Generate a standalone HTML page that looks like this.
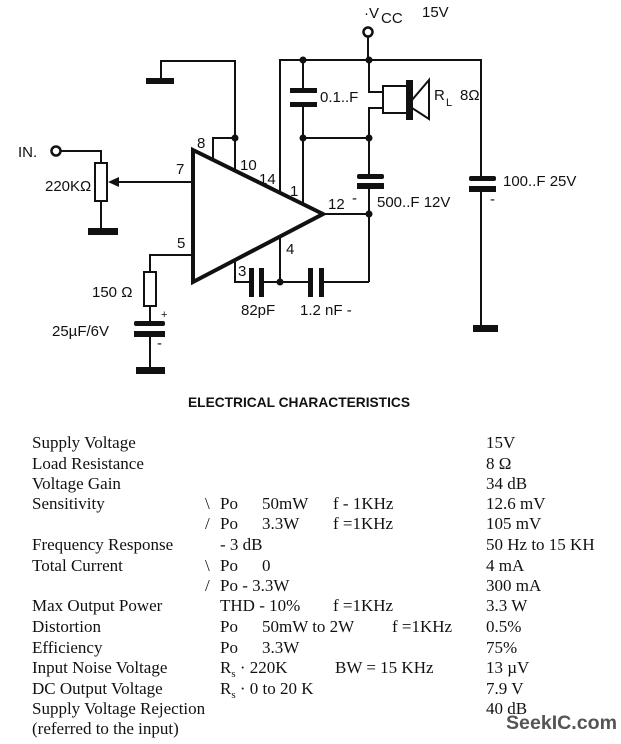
<!DOCTYPE html>
<html><head><meta charset="utf-8"><style>
html,body{margin:0;padding:0;background:#fff;}
svg{display:block;}
.s{font-family:"Liberation Sans",sans-serif;font-size:15px;fill:#111;}
.t{font-family:"Liberation Serif",serif;font-size:17px;fill:#111;}
</style></head><body>
<svg width="621" height="744" viewBox="0 0 621 744" xmlns="http://www.w3.org/2000/svg">
<g stroke="#111" stroke-width="2" fill="none">
<circle cx="368" cy="32" r="4.5" stroke-width="2.5"/>
<line x1="368" y1="37" x2="368" y2="60"/>
<polyline points="280,191 280,60 481,60 481,178"/>
<line x1="303" y1="60" x2="303" y2="91"/>
<line x1="303" y1="104" x2="303" y2="203"/>
<line x1="303" y1="138" x2="369" y2="138"/>
<polyline points="369,60 369,92 383,92"/>
<polyline points="383,108 369,108 369,176"/>
<rect x="383" y="86" width="24" height="27"/>
<polygon points="412,100 429,80 429,119 412,108"/>
<line x1="369" y1="185" x2="369" y2="282"/>
<polyline points="323,214 369,214"/>
<polyline points="369,282 323,282"/>
<line x1="310" y1="282" x2="264" y2="282"/>
<polyline points="250,282 235,282 235,262"/>
<line x1="280" y1="282" x2="280" y2="238"/>
<polyline points="161,81 161,61 235,61 235,170"/>
<polyline points="213,160 213,138 235,138"/>
<line x1="481" y1="188" x2="481" y2="328"/>
<circle cx="56" cy="151" r="4.5" stroke-width="2.5"/>
<polyline points="61,151 101,151 101,163"/>
<rect x="95" y="163" width="12" height="38"/>
<line x1="101" y1="201" x2="101" y2="231"/>
<line x1="193" y1="182" x2="116" y2="182"/>
<polyline points="193,255 150,255 150,272"/>
<rect x="144" y="272" width="12" height="34"/>
<line x1="150" y1="306" x2="150" y2="323"/>
<line x1="150" y1="333" x2="150" y2="370"/>
</g>
<polygon points="193,150 323,214 193,282" fill="none" stroke="#111" stroke-width="4"/>
<g fill="#111">
<rect x="146" y="78" width="28" height="6"/>
<rect x="88" y="228" width="30" height="7"/>
<rect x="136" y="367" width="29" height="7"/>
<rect x="473" y="325" width="25" height="7"/>
<rect x="290" y="88" width="27" height="5"/>
<rect x="290" y="102" width="27" height="5"/>
<rect x="357" y="174" width="27" height="5" rx="2"/>
<rect x="357" y="183" width="27" height="6"/>
<rect x="469" y="176" width="27" height="5" rx="2"/>
<rect x="469" y="186" width="27" height="6"/>
<rect x="134" y="321" width="31" height="5" rx="2"/>
<rect x="134" y="331" width="31" height="6"/>
<rect x="249" y="268" width="5" height="29"/>
<rect x="259" y="268" width="5" height="29"/>
<rect x="308" y="268" width="5" height="29"/>
<rect x="319" y="268" width="5" height="29"/>
<rect x="406" y="80" width="7" height="40"/>
<polygon points="108,182 119,177 119,187"/>
<circle cx="303" cy="60" r="3.5"/><circle cx="369" cy="60" r="3.5"/>
<circle cx="303" cy="138" r="3.5"/><circle cx="369" cy="138" r="3.5"/>
<circle cx="235" cy="138" r="3.5"/><circle cx="369" cy="214" r="3.5"/>
<circle cx="280" cy="282" r="3.5"/>
</g>
<g class="s">
<text x="364" y="18">·V</text><text x="381" y="23">CC</text><text x="422" y="17">15V</text>
<text x="320" y="102">0.1..F</text>
<text x="434" y="100">R</text><text x="446" y="106" font-size="11">L</text><text x="460" y="100">8Ω</text>
<text x="18" y="157">IN.</text>
<text x="45" y="191">220KΩ</text>
<text x="176" y="174">7</text>
<text x="197" y="148">8</text>
<text x="240" y="170">10</text>
<text x="259" y="184">14</text>
<text x="290" y="196">1</text>
<text x="328" y="209">12</text>
<text x="286" y="254">4</text>
<text x="177" y="248">5</text>
<text x="238" y="276">3</text>
<text x="241" y="315">82pF</text>
<text x="300" y="315">1.2 nF -</text>
<text x="92" y="297">150 Ω</text>
<text x="52" y="336">25µF/6V</text>
<text x="161" y="318" font-size="11">+</text>
<text x="157" y="348">-</text>
<text x="352" y="203">-</text>
<text x="377" y="207">500..F 12V</text>
<text x="503" y="186">100..F 25V</text>
<text x="490" y="204">-</text>
<text x="188" y="407" font-weight="bold" font-size="14" textLength="222" lengthAdjust="spacingAndGlyphs">ELECTRICAL CHARACTERISTICS</text>
</g>
<g class="t">
<text x="32" y="448">Supply Voltage</text><text x="486" y="448">15V</text>
<text x="32" y="469">Load Resistance</text><text x="486" y="469">8 Ω</text>
<text x="32" y="489">Voltage Gain</text><text x="486" y="489">34 dB</text>
<text x="32" y="509">Sensitivity</text><text x="205" y="509">\</text><text x="220" y="509">Po</text><text x="262" y="509">50mW</text><text x="333" y="509">f - 1KHz</text><text x="486" y="509">12.6 mV</text>
<text x="205" y="529">/</text><text x="220" y="529">Po</text><text x="262" y="529">3.3W</text><text x="333" y="529">f =1KHz</text><text x="486" y="529">105 mV</text>
<text x="32" y="550">Frequency Response</text><text x="220" y="550">- 3 dB</text><text x="486" y="550">50 Hz to 15 KH</text>
<text x="32" y="571">Total Current</text><text x="205" y="571">\</text><text x="220" y="571">Po</text><text x="262" y="571">0</text><text x="486" y="571">4 mA</text>
<text x="205" y="591">/</text><text x="220" y="591">Po - 3.3W</text><text x="486" y="591">300 mA</text>
<text x="32" y="611">Max Output Power</text><text x="220" y="611">THD - 10%</text><text x="333" y="611">f =1KHz</text><text x="486" y="611">3.3 W</text>
<text x="32" y="632">Distortion</text><text x="220" y="632">Po</text><text x="262" y="632">50mW to 2W</text><text x="392" y="632">f =1KHz</text><text x="486" y="632">0.5%</text>
<text x="32" y="653">Efficiency</text><text x="220" y="653">Po</text><text x="262" y="653">3.3W</text><text x="486" y="653">75%</text>
<text x="32" y="673">Input Noise Voltage</text><text x="220" y="673">R<tspan font-size="11" dy="4">s</tspan><tspan dy="-4"> · 220K</tspan></text><text x="335" y="673">BW = 15 KHz</text><text x="486" y="673">13 µV</text>
<text x="32" y="694">DC Output Voltage</text><text x="220" y="694">R<tspan font-size="11" dy="4">s</tspan><tspan dy="-4"> · 0 to 20 K</tspan></text><text x="486" y="694">7.9 V</text>
<text x="32" y="714">Supply Voltage Rejection</text><text x="486" y="714">40 dB</text>
<text x="32" y="734">(referred to the input)</text>
</g>
<text x="506" y="729" font-family="Liberation Sans,sans-serif" font-weight="bold" font-size="19" fill="#555" textLength="111" lengthAdjust="spacingAndGlyphs">SeekIC.com</text>
</svg>
</body></html>
